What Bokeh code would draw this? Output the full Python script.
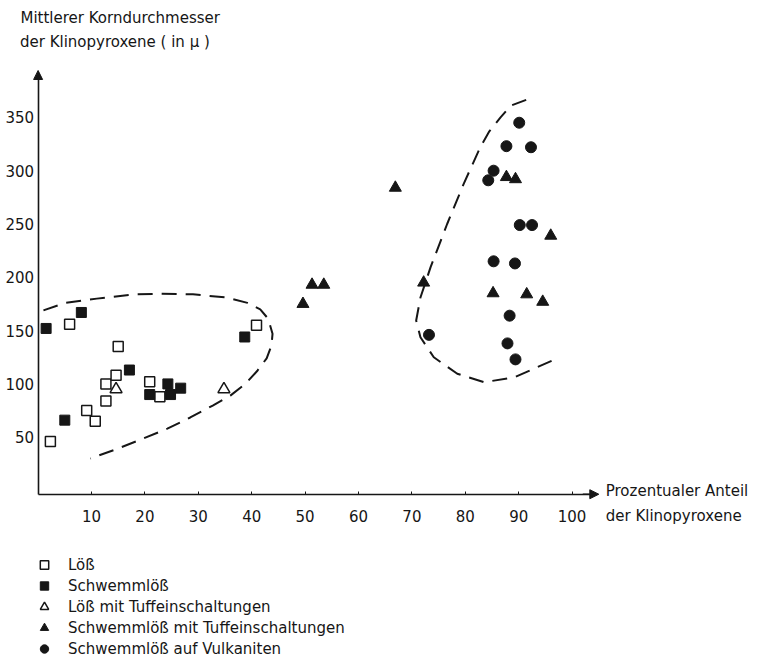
from bokeh.plotting import figure
from bokeh.models import Range1d, Label, Legend, LegendItem, Arrow, NormalHead, FixedTicker, LinearAxis
from bokeh.embed import file_html
from bokeh.resources import INLINE

# ---- data ----
loess_x = [2.3, 5.9, 9.1, 10.7, 12.7, 12.7, 14.6, 15.0, 20.9, 22.8, 40.9]
loess_y = [46, 156, 75, 65, 84, 100, 108, 135, 102, 88, 155]

schwemm_x = [1.5, 8.1, 5.0, 17.1, 20.9, 24.3, 24.8, 26.7, 38.7]
schwemm_y = [152, 167, 66, 113, 90, 100, 90, 96, 144]

loess_tuff_x = [14.6, 34.8]
loess_tuff_y = [95, 95]

schwemm_tuff_x = [66.9, 51.3, 53.5, 49.6, 72.2, 87.7, 89.4, 96.0, 85.2, 91.5, 94.5]
schwemm_tuff_y = [284, 193, 193, 175, 195, 294, 292, 239, 185, 184, 177]

vulkan_x = [90.1, 87.7, 92.3, 85.3, 84.3, 90.2, 92.5, 85.3, 89.3, 88.3, 73.2, 87.9, 89.4]
vulkan_y = [345, 323, 322, 300, 291, 249, 249, 215, 213, 164, 146, 138, 123]

# dashed envelopes
left_curve_x = [1.0, 5.1, 11.0, 17.9, 22.9, 29.0, 35.4, 39.2, 41.6, 43.1, 43.9, 43.7, 42.8,
                41.1, 38.9, 36.0, 32.7, 28.5, 24.2, 19.7, 15.0, 9.8]
left_curve_y = [169, 176, 180, 184, 184.5, 184, 181, 176, 170, 161, 147, 136, 124,
                112.6, 100.4, 89, 79.7, 68.5, 58, 48.8, 39.4, 30]
right_curve_x = [91.4, 88.5, 86.6, 84.5, 82.8, 79.7, 76.6, 73.5, 71.6, 70.8, 71.6, 74.1,
                 78.5, 83.5, 89.1, 93.5, 96.6]
right_curve_y = [366.5, 361, 350, 337, 322, 287.7, 250, 209.5, 181, 159.5, 143.8, 125,
                 109.5, 101.6, 106, 115.7, 122.6]

x_ticks = [10, 20, 30, 40, 50, 60, 70, 80, 90, 100]
y_ticks = [50, 100, 150, 200, 250, 300, 350]

legend_labels = ["Lö\u00df", "Schwemmlö\u00df", "Lö\u00df mit Tuffeinschaltungen",
                 "Schwemmlö\u00df mit Tuffeinschaltungen", "Schwemmlö\u00df auf Vulkaniten"]

FONT = "DejaVu Sans"
INK = "#161616"
W, H = 762, 660

p = figure(width=W, height=H, output_backend="svg", toolbar_location=None,
           x_range=Range1d(-37.6 / 5.34, (W - 37.6) / 5.34),
           y_range=Range1d(-(H - 490) / 1.066, 490 / 1.066),
           x_axis_type=None, y_axis_type=None, min_border=0)
p.outline_line_color = None
p.background_fill_color = "white"
p.border_fill_color = "white"
p.grid.visible = False

xaxis = LinearAxis(fixed_location=-3.5, bounds=(0, 104), ticker=FixedTicker(ticks=x_ticks))
xaxis.axis_line_width = 1.6
xaxis.axis_line_color = INK
xaxis.major_tick_in = 3
xaxis.major_tick_out = 0
xaxis.major_tick_line_color = INK
xaxis.minor_tick_line_color = None
xaxis.major_label_standoff = 16
xaxis.major_label_text_font = FONT
xaxis.major_label_text_font_size = "15px"
xaxis.major_label_text_color = INK
p.add_layout(xaxis, "below")

yaxis = LinearAxis(fixed_location=0, bounds=(-3.5, 390), ticker=FixedTicker(ticks=y_ticks))
yaxis.axis_line_width = 1.6
yaxis.axis_line_color = INK
yaxis.major_tick_in = 0
yaxis.major_tick_out = 0
yaxis.minor_tick_line_color = None
yaxis.major_label_standoff = 4
yaxis.major_label_text_font = FONT
yaxis.major_label_text_font_size = "15px"
yaxis.major_label_text_color = INK
p.add_layout(yaxis, "left")

# axis arrows
p.add_layout(Arrow(end=NormalHead(size=9, fill_color=INK, line_color=INK),
                   x_start=0, y_start=385, x_end=0, y_end=394,
                   line_color=INK, line_width=1.6))
p.add_layout(Arrow(end=NormalHead(size=9, fill_color=INK, line_color=INK),
                   x_start=102, y_start=-3.5, x_end=105, y_end=-3.5,
                   line_color=INK, line_width=1.6))

# dashed envelopes
p.line(left_curve_x, left_curve_y, line_color=INK, line_width=2, line_dash="15 9")
p.line(right_curve_x, right_curve_y, line_color=INK, line_width=2, line_dash="15 9")

# points
r1 = p.scatter(loess_x, loess_y, marker="square", size=10, fill_color="white",
               line_color=INK, line_width=1.5)
r2 = p.scatter(schwemm_x, schwemm_y, marker="square", size=10, fill_color=INK,
               line_color=INK, line_width=1)
r3 = p.scatter(loess_tuff_x, loess_tuff_y, marker="triangle", size=12, fill_color="white",
               line_color=INK, line_width=1.5)
r4 = p.scatter(schwemm_tuff_x, schwemm_tuff_y, marker="triangle", size=12, fill_color=INK,
               line_color=INK, line_width=1)
r5 = p.scatter(vulkan_x, vulkan_y, marker="circle", size=11, fill_color=INK,
               line_color=INK, line_width=1)

legend = Legend(items=[LegendItem(label=l, renderers=[r]) for l, r in
                       zip(legend_labels, [r1, r2, r3, r4, r5])],
                location=(33, 1), orientation="vertical",
                glyph_width=22, glyph_height=21, spacing=0, label_height=20,
                label_standoff=13, padding=0, margin=0,
                border_line_color=None, background_fill_alpha=0,
                label_text_font=FONT, label_text_font_size="15px", label_text_color=INK)
p.add_layout(legend)

# axis titles
for txt, lx, ly in [("Mittlerer Korndurchmesser", -3.3, 442.8),
                    ("der Klinopyroxene ( in \u00b5 )", -3.4, 421.2),
                    ("Prozentualer Anteil", 106.3, -0.9),
                    ("der Klinopyroxene", 106.3, -23.5)]:
    p.add_layout(Label(x=lx, y=ly, text=txt, text_font=FONT, text_font_size="15px",
                       text_color=INK, text_baseline="middle", text_align="left"))

open("out.html", "w").write(file_html(p, INLINE))
